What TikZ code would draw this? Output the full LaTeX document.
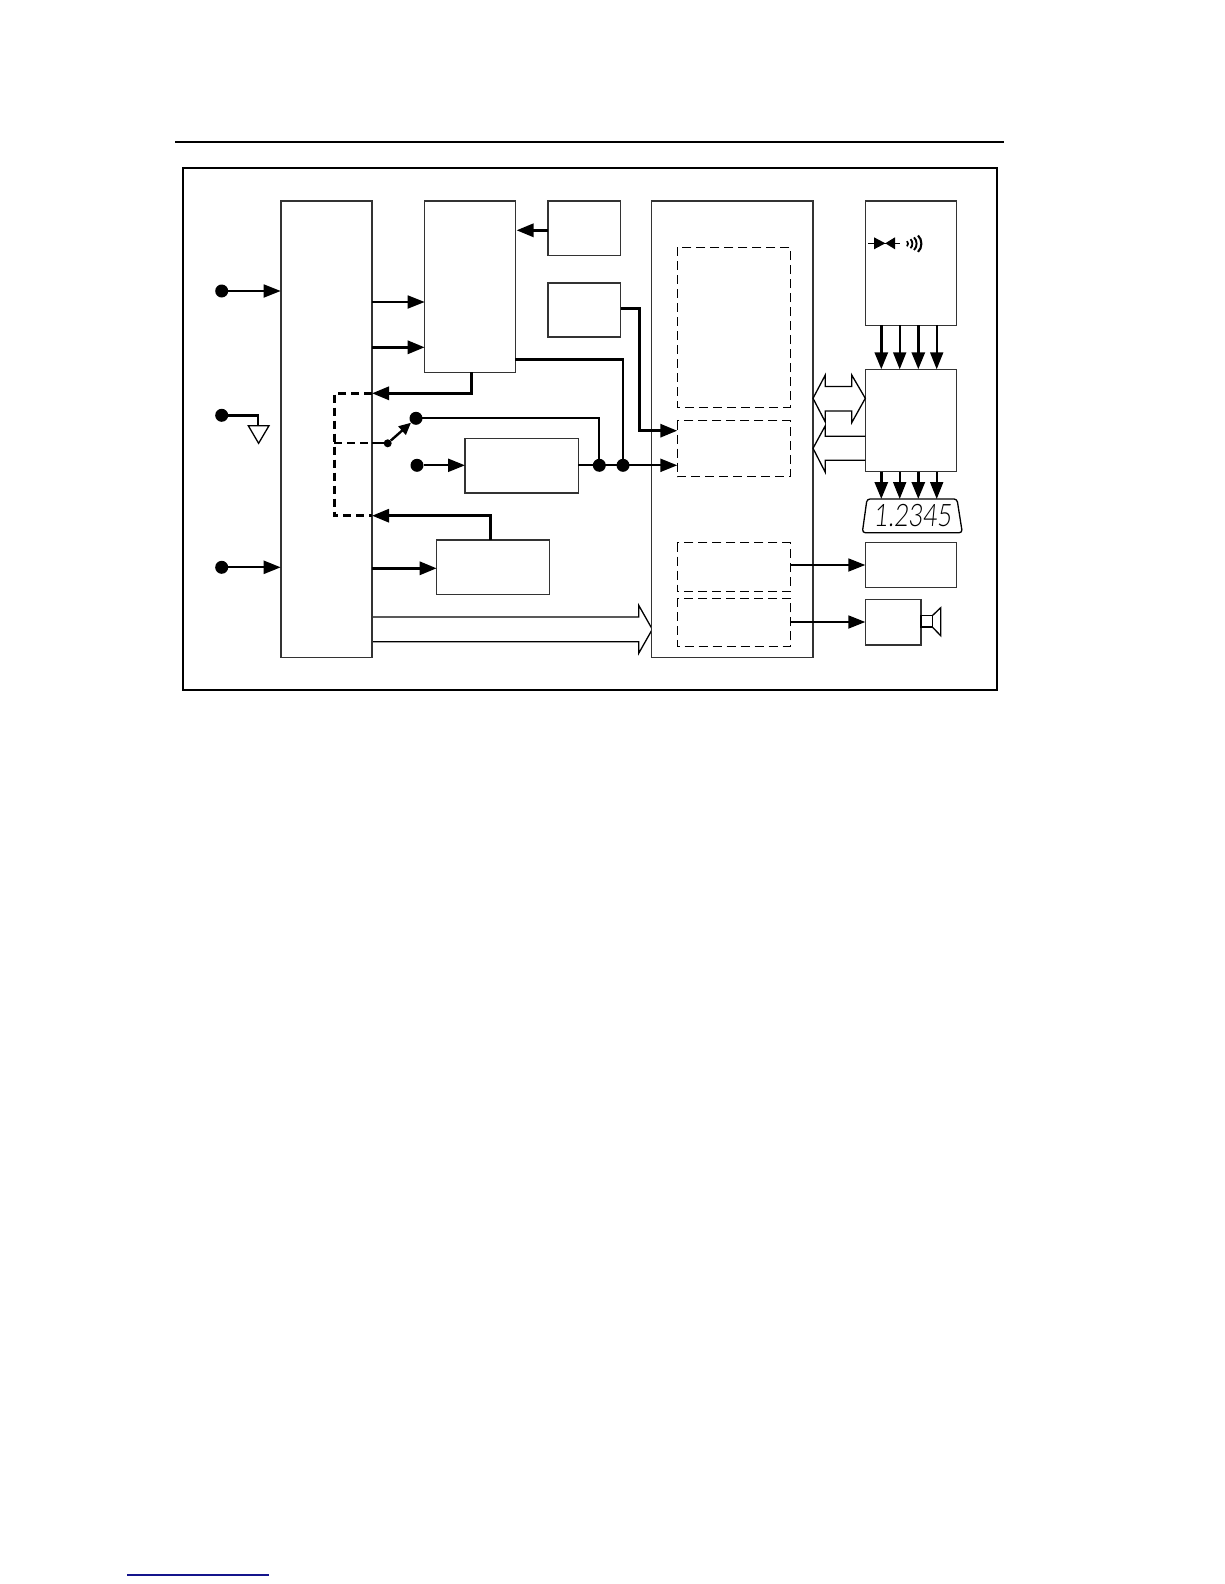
\documentclass[tikz,border=0pt]{standalone}
\usepackage{fontspec}
\usetikzlibrary{arrows.meta}
\newfontfamily\dispfont[FakeSlant=0.12]{Lato Light}
\definecolor{boxgray}{gray}{0.2}
\tikzset{
  blockbox/.style={draw=boxgray,line width=1.3pt,fill=white,anchor=north west,inner sep=0pt,outer sep=0pt,minimum width=#1},
  dashbox/.style={draw=black,line width=1pt,dash pattern=on 9pt off 5pt},
  tip/.style={-{Triangle[length=17pt,width=13pt]}},
  thinwire/.style={tip,line width=1.8pt},
  midwire/.style={tip,line width=2.3pt},
  thickwire/.style={tip,line width=3pt},
  plainwire/.style={line width=2.4pt},
  dashwire/.style={line width=2.6pt,dash pattern=on 8pt off 5pt},
  hollow/.style={draw=black,line width=1.3pt,fill=white,line join=miter},
  dot/.style={circle,fill=black,inner sep=0pt,minimum size=13pt},
  smalldot/.style={circle,fill=black,inner sep=0pt,minimum size=8pt}
}
\begin{document}
\begin{tikzpicture}[x=1pt,y=-1pt]
\useasboundingbox (0,0) rectangle (1224,1584);
\fill[white] (0,0) rectangle (1224,1584);
% page rules and frame
\coordinate (ruleL) at (175,142); \coordinate (ruleR) at (1004,142);
\draw[line width=2pt] (ruleL) -- (ruleR);
\draw[line width=2.2pt] (183,168) rectangle (997,690);
\coordinate (linkL) at (127.3,1575); \coordinate (linkR) at (268.7,1575);
\draw[line width=1.2pt,draw={rgb,255:red,20;green,20;blue,140}] (linkL) -- (linkR);

% hollow bus A -> E (drawn before the boxes)
\draw[hollow] (372,617) -- (638.7,617) -- (638.7,605.3) -- (652.3,629.3) -- (638.7,653.3) -- (638.7,641.7) -- (372,641.7);

% blocks
\node[blockbox=91pt,minimum height=456.3pt] (A) at (281,201) {};
\node[blockbox=90.6pt,minimum height=171.3pt] (B) at (424.7,201) {};
\node[blockbox=72.7pt,minimum height=54.3pt] (C) at (548,201) {};
\node[blockbox=72.7pt,minimum height=54pt] (D) at (548,283) {};
\node[blockbox=161.3pt,minimum height=456.3pt] (E) at (651.7,201) {};
\node[blockbox=91pt,minimum height=124.3pt] (F) at (865.3,201) {};
\node[blockbox=91pt,minimum height=102.4pt] (G) at (865.3,369.3) {};
\node[blockbox=91pt,minimum height=45pt] (H) at (865.3,542.7) {};
\node[blockbox=55.7pt,minimum height=45.7pt] (I) at (865.3,599.3) {};
\node[blockbox=113.3pt,minimum height=54.3pt] (J) at (465,438.7) {};
\node[blockbox=113pt,minimum height=54.3pt] (K) at (436.7,540) {};

% dashed inner boxes
\draw[dashbox] (677.3,247) rectangle (790.3,407);
\draw[dashbox] (677.3,420.7) rectangle (790.3,476.7);
\draw[dashbox] (677.3,542.7) rectangle (790.3,591.7);
\draw[dashbox] (677.3,598) rectangle (790.3,646.7);

% terminals and input wires
\node[dot] (in1) at (221.7,291) {};
\node[dot] (in2) at (221.7,415.3) {};
\node[dot] (in3) at (221.7,567.3) {};
\node[dot] (contact) at (416,418.3) {};
\node[dot] (in4) at (417,465.3) {};
\node[dot] (j1) at (599.3,465.3) {};
\node[dot] (j2) at (623,465.3) {};
\node[smalldot] (sw) at (387.7,443.3) {};
\coordinate (a1) at (280.7,291);
\coordinate (a3) at (280.7,567.3);
\draw[thinwire] (in1) -- (a1);
\draw[midwire] (in3) -- (a3);
\draw[midwire] (in4) -- (in4-|J.west);

% ground
\coordinate (gndTop) at (258,425.7);
\draw[plainwire] (in2.center) -| (gndTop);
\draw[line width=1.3pt,line join=miter] (248.3,425.7) -- (269,425.7) -- (258.6,443.3) -- cycle;

% A <-> B, C -> B
\coordinate (ab1a) at (372,302); \coordinate (ab1b) at (424.7,302);
\coordinate (ab2a) at (372,347.3); \coordinate (ab2b) at (424.7,347.3);
\draw[thinwire] (ab1a) -- (ab1b);
\draw[thickwire] (ab2a) -- (ab2b);
\coordinate (bOut) at (471.3,372); \coordinate (aBack) at (372,393.3);
\draw[thickwire] (bOut) |- (aBack);
\coordinate (cOut) at (548,230.3); \coordinate (bIn) at (516.5,230.3);
\draw[thickwire] (cOut) -- (bIn);

% D -> dashed box 2
\coordinate (dOut) at (620.7,308.3); \coordinate (e2a) at (677.3,430.7);
\draw[thickwire] (dOut) -- (639.3,308.3) -- (639.3,430.7) -- (e2a);

% B -> junction 2
\coordinate (bOut2) at (515.3,359.3);
\draw[plainwire] (bOut2) -| (j2.center);

% contact -> junction 1
\draw[line width=2pt] (contact.center) -| (j1.center);

% J -> E
\coordinate (e2b) at (677.3,465.3);
\draw[midwire] (J.east|-j1) -- (e2b);

% K <-> A
\coordinate (kOut) at (490.3,540); \coordinate (aBack2) at (372,515.7);
\draw[thickwire] (kOut) |- (aBack2);
\coordinate (aOut3) at (372,568.3); \coordinate (kIn) at (436.7,568.3);
\draw[thickwire] (aOut3) -- (kIn);

% dashed control links
\coordinate (dashTL) at (334.3,393.3);
\coordinate (dashBL) at (334.3,515.7);
\coordinate (dashML) at (334.3,443.3);
\coordinate (aEdgeSw) at (372,443.3);
\draw[dashwire] (372,393.3) -- (dashTL) -- (dashBL) -- (372,515.7);
\draw[line width=1.8pt,dash pattern=on 8pt off 5pt] (dashML) -- (aEdgeSw);
\draw[line width=1.8pt] (aEdgeSw) -- (sw);
\draw[line width=2.4pt,-{Triangle[length=12pt,width=11pt]}] (sw) -- (contact);

% outputs of E
\coordinate (e3) at (790.3,565); \coordinate (e4) at (790.3,622);
\draw[thinwire] (e3) -- (e3-|H.west);
\draw[thinwire] (e4) -- (e4-|I.west);

% F -> G -> display
\foreach \x/\w in {881.3/3,899.7/1.9,918.3/3,936.7/1.9}{
  \draw[tip,line width=\w pt] (\x,325) -- (\x,369.3);
  \draw[tip,line width=\w pt] (\x,471.7) -- (\x,499);
}

% double hollow arrows
\draw[hollow] (813,398.3) -- (825.3,375) -- (825.3,386.5) -- (851.7,386.5) -- (851.7,375) -- (865.3,398.3) -- (851.7,422.7) -- (851.7,411) -- (825.3,411) -- (825.3,422) -- cycle;
\draw[hollow,fill=none] (865.3,436.3) -- (825.3,436.3) -- (825.3,425.7) -- (813,448.3) -- (825.3,472.3) -- (825.3,460.3) -- (865.3,460.3);

% display
\draw[line width=1.3pt,rounded corners=3pt] (867,499) -- (957,499) -- (962.3,532.7) -- (862.3,532.7) -- cycle;
\node[font=\dispfont,xscale=0.8,inner sep=0pt] (disp) at (912.5,516) {\fontsize{31pt}{31pt}\selectfont 1.2345};

% diode icon
\coordinate (dioL) at (868.3,243.3); \coordinate (dioR) at (900,243.3);
\draw[line width=1.6pt] (dioL) -- (dioR);
\fill (874,237.3) -- (885.3,243.3) -- (874,249.3) -- cycle;
\fill (895,237.3) -- (885.3,243.3) -- (895,249.3) -- cycle;
% beeper icon
\foreach \x/\h/\w in {907/2.6/1.7,910.5/4.5/1.8,914/6.3/1.9,918/8.2/2.1}{
  \draw[line width=\w pt] (\x,243.7-\h) .. controls (\x+0.55*\h,243.7-0.5*\h) and (\x+0.55*\h,243.7+0.5*\h) .. (\x,243.7+\h);
}

% speaker
\draw[line width=1.5pt] (921,615.7) rectangle (932.3,627);
\draw[line width=1.3pt] (932.3,615.7) -- (940.7,607.7) -- (940.7,635.7) -- (932.3,627);
\end{tikzpicture}
\end{document}
